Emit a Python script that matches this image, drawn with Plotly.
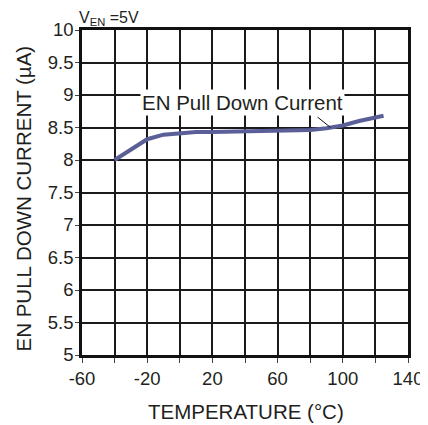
import plotly.graph_objects as go

temperature = [-40, -20, -10, 0, 10, 20, 40, 60, 80, 90, 100, 110, 125]
pull_down_current = [8.0, 8.32, 8.39, 8.41, 8.43, 8.43, 8.44, 8.45, 8.46, 8.49, 8.53, 8.60, 8.68]

x_ticks = [-60, -20, 20, 60, 100, 140]
y_ticks = [5, 5.5, 6, 6.5, 7, 7.5, 8, 8.5, 9, 9.5, 10]

font_family = "Liberation Sans, Arial, sans-serif"
text_color = "#231f20"

fig = go.Figure()
fig.add_trace(
    go.Scatter(
        dict(mode='lines',
             name='EN Pull Down Current',
             x=temperature,
             y=pull_down_current,
             line_color='#5b5f97',
             line_width=4)
    )
)

fig.update_xaxes(
    range=[-60, 140],
    tickvals=x_ticks,
    ticktext=[str(v) for v in x_ticks],
    ticks="outside", ticklen=5, tickcolor="#444", tickwidth=1,
    showgrid=True, gridcolor="#1a1a1a", gridwidth=1.5,
    minor=dict(dtick=20, tick0=-60, showgrid=True, gridcolor="#1a1a1a", gridwidth=1.5,
               ticks="outside", ticklen=5, tickcolor="#444"),
    showline=True, linecolor="#111", linewidth=2.5, mirror=True,
    zeroline=False, automargin=False,
    tickfont=dict(size=18.5),
)
fig.update_yaxes(
    range=[5, 10],
    tickvals=y_ticks,
    ticktext=[f"{v:g}" for v in y_ticks],
    ticks="outside", ticklen=4, tickcolor="#444", tickwidth=1,
    ticklabelstandoff=-2,
    showgrid=True, gridcolor="#1a1a1a", gridwidth=1.5,
    showline=True, linecolor="#111", linewidth=2.5, mirror=True,
    zeroline=False, automargin=False,
    tickfont=dict(size=18.5),
)

# axis titles
fig.add_annotation(
    x=0, y=0.5, xref="paper", yref="paper", xanchor="center", yanchor="middle",
    xshift=-59, yshift=-6,
    text="EN PULL DOWN CURRENT (\u00b5A)", textangle=-90, showarrow=False,
    font=dict(size=20.5, color=text_color),
)
fig.add_annotation(
    x=0.5, y=0, xref="paper", yref="paper", xanchor="center", yanchor="middle",
    yshift=-56, xshift=1,
    text="TEMPERATURE (\u00b0C)", showarrow=False,
    font=dict(size=20.5, color=text_color),
)

# leader line from label to curve
fig.add_shape(type="line", x0=84.5, y0=8.66, x1=92.5, y1=8.50,
              xref="x", yref="y", line=dict(color="#111", width=1))
fig.add_annotation(
    x=38.5, y=8.88, xref="x", yref="y",
    text="EN Pull Down Current",
    showarrow=False,
    bgcolor="white", borderpad=1,
    font=dict(size=20.5, color=text_color),
)
fig.add_annotation(
    x=0, y=1, xref="paper", yref="paper", xanchor="left", yanchor="bottom",
    yshift=1, xshift=-4, borderpad=0,
    text="V<sub>EN</sub> =5V", showarrow=False,
    font=dict(size=16, color=text_color),
)

# page body adds an 8px offset, so the figure is drawn 8px smaller
fig.update_layout(
    template="plotly_white",
    width=420, height=417,
    margin=dict(l=74, r=20, t=22, b=70),
    showlegend=False,
    font=dict(family=font_family, size=18, color=text_color),
    plot_bgcolor="white", paper_bgcolor="white",
)
fig.write_html("out.html")
